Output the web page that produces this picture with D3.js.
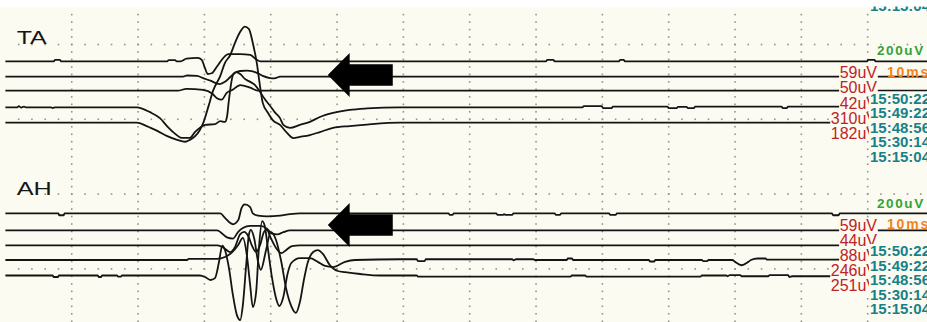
<!DOCTYPE html>
<html>
<head>
<meta charset="utf-8">
<script src="https://cdn.jsdelivr.net/npm/d3@7"></script>
<style>
  body { margin: 0; background: #fff; }
  svg { display: block; }
</style>
</head>
<body>
<div id="chart"></div>
<script>
// ---- data: time in ms, deflection in uV (200 uV / div, 10 ms / div) ----
const msTicks = d3.range(10, 140, 10);
const gridRows = [0, 1, 2, 3];
const panelNames = ["TA", "AH"];
const taAmps = ["59uV", "50uV", "42uV", "310uV", "182uV"];
const ahAmps = ["59uV", "44uV", "88uV", "246uV", "251uV"];
const timeStamps = ["15:50:22", "15:49:22", "15:48:56", "15:30:14", "15:15:04"];
const gainLabel = "200uV";
const sweepLabel = "10ms";

const taTrace1 = [[0,0],[7.3,0],[7.5,4],[8.2,4],[8.4,0],[24.4,0],[24.6,3],[25.6,3],[25.8,0],[26.4,0],[27.3,7],[29.0,9],[29.6,4],[30.1,-19],[30.5,-34],[31.1,-32],[31.9,-14],[32.8,8],[33.6,19],[35.4,19],[36.9,17],[37.9,4],[38.4,0],[81.5,0],[81.7,4],[82.6,4],[82.8,0],[92.5,0],[92.7,4],[93.2,4],[93.4,0],[129.9,0],[130.1,4],[131.0,4],[131.2,0],[140,0]];
const taTrace2 = [[0,0],[26.8,0],[27.4,3],[28.9,2],[29.8,-4],[30.9,-11],[32.3,-20],[33.1,-14],[33.9,-1],[34.6,10],[35.4,15],[36.4,16],[37.3,14],[37.9,10],[38.8,2],[39.9,-4],[40.3,-5],[40.9,-3],[41.4,0],[140,0]];
const taTrace3 = [[0,0],[26.0,0],[27.3,5],[29.8,2],[31.2,-8],[31.9,-20],[32.6,-24],[33.4,-5],[34.2,2],[35.4,15],[36.9,8],[38.1,0],[140,0]];
const taTrace4 = [[0,0],[1.8,0],[2.0,3],[2.4,-1],[2.8,2],[3.1,0],[6.9,0],[7.1,-2],[7.5,0],[19.8,0],[21.8,-13],[23.3,-29],[24.5,-53],[25.6,-71],[26.6,-82],[27.8,-82],[28.6,-66],[29.3,-55],[30.1,-47],[31.6,-45],[32.4,-37],[33.1,-39],[33.4,-26],[33.7,20],[34.0,60],[34.3,86],[34.8,94],[35.4,89],[36.1,76],[36.9,68],[37.6,60],[38.4,41],[39.1,22],[39.9,4],[40.6,-13],[41.4,-29],[41.9,-47],[42.9,-55],[44.4,-47],[45.9,-39],[47.4,-26],[49.4,-15],[51.9,-7],[54.5,-3],[59.5,0],[87.0,0],[87.2,3],[89.9,3],[90.1,-2],[91.4,-2],[91.6,2],[99.8,2],[100.0,-2],[101.2,-2],[101.4,1],[102.7,1],[102.9,-2],[103.8,-2],[104.0,2],[117.0,2],[117.2,-2],[117.8,-2],[118.0,2],[140,2]];
const taTrace5 = [[0,0],[19.8,0],[21.3,-9],[22.9,-22],[24.4,-36],[25.9,-46],[27.1,-51],[27.8,-46],[28.6,-36],[29.3,-20],[29.8,-2],[30.6,43],[31.3,85],[32.4,125],[33.1,160],[33.9,181],[34.6,213],[35.4,243],[36.1,257],[36.7,251],[37.3,213],[37.9,160],[38.4,96],[38.8,53],[39.6,26],[40.3,7],[41.4,-6],[42.5,-28],[43.4,-41],[44.4,-38],[45.9,-33],[47.4,-25],[49.4,-14],[51.9,-9],[54.5,-5],[59.5,0],[140,0]];

const ahTrace1 = [[0,0],[8.0,0],[8.1,-5],[8.8,-5],[8.9,0],[32.4,0],[33.1,-12],[34.3,-29],[35.1,-18],[35.6,14],[36.1,24],[36.9,17],[37.3,0],[38.1,-6],[39.4,-8],[41.4,-6],[42.9,-2],[44.4,0],[66.8,0],[67.0,-4],[67.4,-4],[67.6,0],[74.0,0],[74.2,-4],[75.0,-4],[75.2,-2],[75.4,-4],[76.4,-4],[76.6,0],[82.8,0],[83.0,-4],[83.6,-4],[83.8,0],[91.0,0],[91.2,-4],[92.0,-4],[92.2,0],[124.6,0],[124.8,-5],[125.6,-5],[125.8,0],[140,0]];
const ahTrace2 = [[0,0],[31.9,0],[33.4,-19],[34.3,-22],[35.1,-4],[35.8,6],[36.9,12],[38.4,12],[39.4,5],[40.2,-9],[41.0,-11],[41.9,-5],[42.9,0],[140,0]];
const ahTrace3 = [[0,0],[32.0,0],[33.0,-8],[33.9,-18],[34.6,-5],[35.4,30],[36.0,36],[36.6,25],[37.2,-2],[37.8,-18],[38.4,1],[39.0,36],[39.4,41],[40.0,20],[40.8,-7],[41.6,-21],[42.3,-13],[43.2,-2],[44.4,0],[140,0]];
const ahTrace4 = [[0,0],[27.4,0],[27.6,3],[31.9,3],[33.1,8],[34.2,21],[35.1,40],[35.8,59],[36.4,13],[36.9,-67],[37.3,-126],[37.8,-86],[38.2,27],[38.7,104],[39.1,91],[39.6,27],[40.2,-48],[40.8,-102],[41.3,-123],[41.9,-99],[42.5,-40],[43.1,-8],[44.4,5],[45.9,5],[47.1,-5],[48.2,-16],[49.4,-19],[51.2,-5],[52.7,0],[59.5,2],[62.0,2],[62.2,-3],[63.2,-3],[63.4,2],[76.4,2],[76.6,-1],[77.0,2],[79.6,2],[79.8,0],[84.6,0],[84.8,4],[85.4,4],[85.6,0],[97.0,0],[97.2,-4],[97.8,-4],[98.0,0],[105.0,0],[105.2,-3],[105.8,-3],[106.0,0],[109.6,0],[110.0,-5],[111.0,-14],[112.0,-5],[112.4,0],[113.4,4],[114.6,4],[114.8,1],[140,1]];
const ahTrace5 = [[0,0],[7.1,0],[7.3,-4],[7.9,-4],[8.1,0],[13.9,0],[14.1,-4],[14.4,-4],[14.6,0],[16.8,0],[17.0,-3],[17.4,-3],[17.6,0],[29.3,0],[30.1,-4],[30.9,-12],[31.6,-7],[32.2,36],[32.7,80],[33.1,68],[33.7,20],[34.3,-52],[34.9,-106],[35.4,-119],[35.8,-79],[36.3,28],[36.7,108],[37.0,122],[37.5,100],[38.1,36],[38.5,15],[39.3,68],[40.0,116],[40.8,95],[41.6,36],[42.3,-33],[43.1,-82],[43.8,-100],[44.4,-71],[45.0,-12],[45.6,36],[46.4,63],[47.1,68],[47.9,57],[48.9,28],[50.1,12],[51.2,9],[53.5,4],[56.5,0],[62.0,0],[62.2,-3],[85.2,-3],[85.4,0],[87.4,0],[87.6,-3],[104.8,-3],[105.0,0],[108.7,0],[108.9,-2],[109.2,1],[110.8,1],[111.0,-2],[115.0,-2],[115.2,1],[118.0,1],[118.2,-4],[118.6,-2],[140,-2]];

// ---- layout ----
const W = 927, H = 322;
const bg = "#fbfbf1";
const panels = [
  { name: panelNames[0], traces: [taTrace1, taTrace2, taTrace3, taTrace4, taTrace5], amps: taAmps,
    bases: [61.3, 76.6, 90.7, 107.3, 122.7], top: 0 },
  { name: panelNames[1], traces: [ahTrace1, ahTrace2, ahTrace3, ahTrace4, ahTrace5], amps: ahAmps,
    bases: [213.4, 230.3, 245.3, 260.0, 275.5], top: 152.5 }
];

const x = d3.scaleLinear().domain([0, 140]).range([5.4, 5.4 + 140 * 6.633]);
const amp = d3.scaleLinear().domain([0, 200]).range([0, -74.8]);
const row = d3.scaleLinear().domain([0, 1]).range([44.5, 119.3]);

const svg = d3.select("#chart").append("svg")
  .attr("width", W).attr("height", H)
  .style("font-family", "'Liberation Sans', Arial, sans-serif");

svg.append("rect").attr("width", W).attr("height", H).attr("fill", bg);
svg.append("rect").attr("width", W).attr("height", 7.5).attr("fill", "#fff");

// dotted grid
const grid = svg.append("g").attr("fill", "#94948c");
const vDots = d3.range(-4, 40).map(k => row(k / 10)).filter(y => y > 8 && y < H);
msTicks.forEach(t => {
  grid.selectAll(null).data(vDots).enter().append("rect")
    .attr("x", x(t) - 0.8).attr("y", d => d - 0.8)
    .attr("width", 1.6).attr("height", 1.6);
});
const hDots = d3.range(1, 72).map(j => x(j * 2)).filter(v => v < W);
gridRows.forEach(r => {
  grid.selectAll(null).data(hDots).enter().append("rect")
    .attr("x", d => d - 0.8).attr("y", row(r) - 0.8)
    .attr("width", 1.6).attr("height", 1.6);
});

// traces
panels.forEach(p => {
  const g = svg.append("g");
  p.traces.forEach((tr, i) => {
    const line = d3.line()
      .x(d => x(d[0]))
      .y(d => p.bases[i] + amp(d[1]))
      .curve(d3.curveMonotoneX);
    g.append("path")
      .attr("d", line(tr))
      .attr("fill", "none")
      .attr("stroke", "#141414")
      .attr("stroke-width", 1.8)
      .attr("stroke-linejoin", "round");
  });
});

// arrows
const arrowLine = d3.line();
panels.forEach((p, i) => {
  const cy = 75 + i * 150;
  const pts = [
    [x(48.6), cy], [x(51.9), cy - 22], [x(51.9), cy - 10.7], [x(58.4), cy - 10.7],
    [x(58.4), cy + 10.7], [x(51.9), cy + 10.7], [x(51.9), cy + 22]
  ];
  svg.append("path").attr("d", arrowLine(pts) + "Z").attr("fill", "#000");
});

// panel titles
panels.forEach((p, i) => {
  svg.append("text")
    .attr("x", 16.7).attr("y", i === 0 ? 44.3 : 195)
    .attr("font-size", 18)
    .attr("textLength", i === 0 ? 30 : 35)
    .attr("lengthAdjust", "spacingAndGlyphs")
    .attr("fill", "#161616")
    .text(p.name);
});

// amplitude labels with opaque background
panels.forEach(p => {
  p.amps.forEach((a, i) => {
    const g = svg.append("g");
    const t = g.append("text")
      .attr("x", 877).attr("y", p.top + 78.3 + i * 15.1)
      .attr("text-anchor", "end")
      .attr("font-size", 16)
      .attr("fill", "#be2226")
      .text(a);
    const b = t.node().getBBox();
    g.insert("rect", "text")
      .attr("x", b.x - 0.5).attr("y", b.y + 2.5)
      .attr("width", b.width + 1).attr("height", b.height - 3.5)
      .attr("fill", bg);
  });
});

// time stamps block
function stampBlock(top, list) {
  const g = svg.append("g");
  g.append("rect")
    .attr("x", 869).attr("y", top + 91.5)
    .attr("width", W - 869).attr("height", 72)
    .attr("fill", bg);
  g.selectAll("text").data(list).enter().append("text")
    .attr("x", 870).attr("y", (d, i) => top + 103.5 + i * 14.6)
    .attr("font-size", 15).attr("font-weight", "bold")
    .attr("fill", "#17818b")
    .text(d => d);
}
panels.forEach(p => stampBlock(p.top, timeStamps));

// clipped stamp peeking at the top
svg.append("text")
  .attr("x", 870).attr("y", 10.5)
  .attr("font-size", 15).attr("font-weight", "bold")
  .attr("fill", "#17818b")
  .text(timeStamps[4]);
svg.append("rect").attr("x", 860).attr("width", W - 860).attr("height", 6.5).attr("fill", "#fff");

// gain / sweep labels
panels.forEach(p => {
  svg.append("text")
    .attr("x", 877).attr("y", p.top + 55)
    .attr("font-size", 13.5).attr("font-weight", "bold")
    .attr("letter-spacing", 1.6)
    .attr("fill", "#35a237")
    .text(gainLabel);
  svg.append("text")
    .attr("x", 887).attr("y", p.top + 76.5)
    .attr("font-size", 14).attr("font-weight", "bold")
    .attr("letter-spacing", 1.8)
    .attr("fill", "#f4821f")
    .text(sweepLabel);
});
</script>
</body>
</html>
